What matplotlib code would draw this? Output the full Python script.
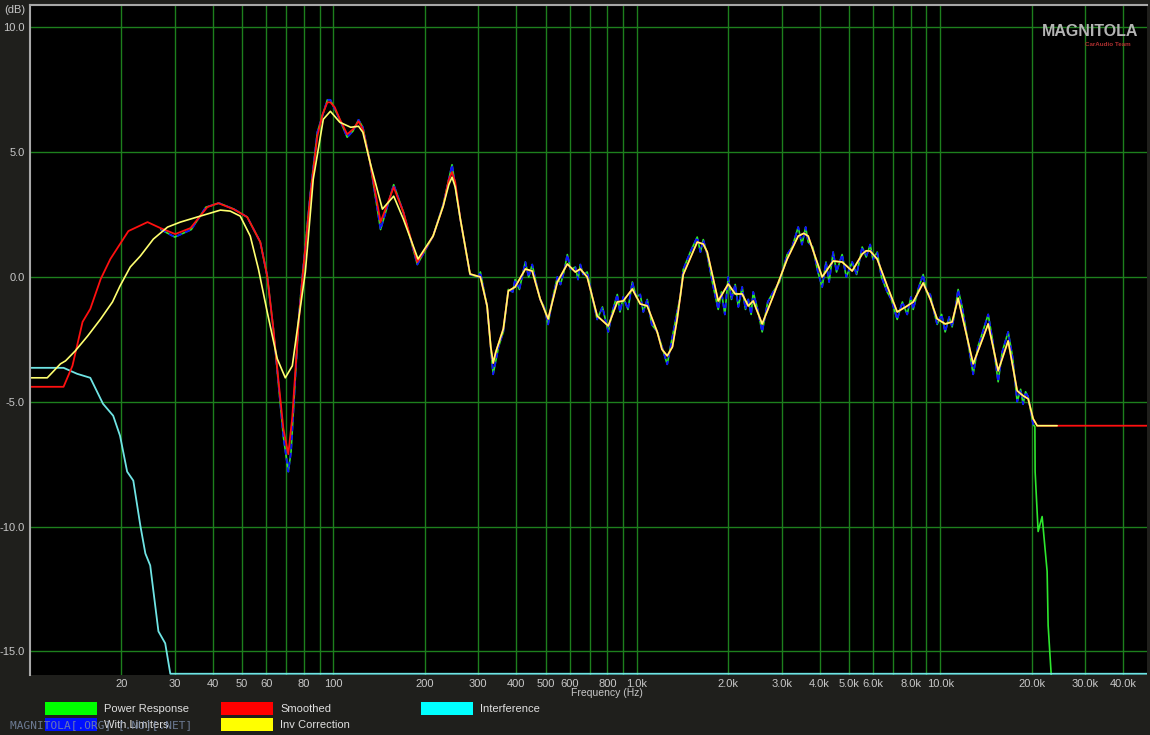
import numpy as np
import matplotlib.pyplot as plt
from matplotlib.patches import Rectangle
from matplotlib.ticker import NullLocator

# ---- data (Hz, dB) ----
smooth_freq = [10, 12.9, 13.8, 14.9, 15.8, 17.1, 18.4, 21.1, 24.4, 26.9, 30.1, 33.8, 38.4, 41.7,
               46.8, 52.0, 57.4, 60.5, 63.4, 65.8, 68.4, 71.0, 73.2, 76.6, 79.0, 83.9, 88.5, 92.0,
               95.5, 97.7, 101, 105, 111, 116, 121, 125, 132, 143, 158, 170, 189, 213, 230, 240, 246,
               252, 262, 282, 305, 321, 330, 336, 343, 363, 377, 397, 429, 452, 480, 510, 547, 590,
               627, 651, 686, 740, 805, 862, 902, 966, 1026, 1082, 1167, 1210, 1259, 1310, 1358,
               1422, 1581, 1655, 1706, 1854, 2000, 2109, 2224, 2328, 2418, 2588, 2815, 3129, 3402,
               3550, 3669, 4081, 4436, 4748, 5125, 5529, 5700, 5875, 6195, 6684, 7211, 7779, 8141,
               8784, 9264, 9765, 10376, 10941, 11450, 12834, 14383, 15513, 16737, 17924, 18751,
               19477, 20228, 20852, 48000]
smooth_db = [-4.4, -4.4, -3.56, -1.8, -1.28, -0.08, 0.72, 1.84, 2.2, 1.96, 1.72, 1.96, 2.8, 2.96,
             2.72, 2.4, 1.4, 0.04, -2.08, -4.08, -6.08, -7.1, -5.6, -2.0, -0.08, 3.24, 5.64, 6.5,
             7.0, 7.0, 6.8, 6.32, 5.72, 5.92, 6.24, 5.92, 4.6, 2.2, 3.6, 2.6, 0.6, 1.64, 2.84, 3.9, 4.2,
             3.8, 2.32, 0.12, 0.0, -1.16, -2.8, -3.45, -3.0, -2.08, -0.56, -0.4, 0.32, 0.24, -0.88,
             -1.68, -0.2, 0.52,
             0.2, 0.32, 0.0, -1.56, -1.96, -1.0, -0.96, -0.48, -1.08, -1.16, -2.2, -2.9, -3.16, -2.8, -1.68,
             0.1, 1.4, 1.32, 1.0, -0.96, -0.28, -0.68, -0.68, -1.16, -0.96, -1.88, -0.76, 0.72, 1.64,
             1.75, 1.64, 0.0, 0.64, 0.6, 0.24, 0.92, 1.05, 1.04, 0.72, -0.36, -1.4, -1.16, -1.0,
             -0.24, -0.88, -1.68, -1.88, -1.8, -0.85, -3.48, -1.88, -3.76, -2.56, -4.56, -4.76,
             -4.88, -5.68, -5.96, -5.96]

inv_freq = [10, 11.4, 12.6, 13.1, 14.1, 15.5, 17.1, 18.7, 19.8, 21.4, 23.1, 25.5, 28.4, 31.3,
            36.4, 42.4, 45.7, 49.3, 53.2, 56.6, 60.5, 65.3, 69.4, 73.2, 76.6, 80.8, 85.8, 92.6,
            97.7, 105, 114, 121, 125, 132, 145, 158, 170, 190, 213, 230, 240, 246, 252, 262]
inv_db = [-4.04, -4.04, -3.48, -3.36, -2.96, -2.36, -1.68, -1.0, -0.36, 0.4, 0.84, 1.52, 2.0, 2.2,
          2.44, 2.68, 2.64, 2.44, 1.64, 0.32, -1.4, -3.28, -4.04, -3.56, -1.8, 0.2, 3.92, 6.32,
          6.64, 6.2, 6.0, 6.04, 5.8, 4.6, 2.72, 3.24, 2.32, 0.72, 1.64, 2.84, 3.7, 4.0, 3.6, 2.32]
inv_end_freq = 24268

raw_freq = [27, 30, 34, 38, 42, 47, 52, 57.4, 60.5, 63.4, 65.8, 68.4, 71.0, 72.5, 74.5, 77, 79,
            84, 88.5, 95.5, 97.7, 105, 111, 116, 121, 125, 132, 143, 158, 170, 189, 213, 230,
            246, 262, 282, 300, 305, 321, 336, 350, 363, 377, 390, 397, 410, 429, 440, 452, 465,
            480, 495, 510, 525, 547, 560, 575, 590, 605, 627, 640, 651, 665, 686, 710, 740, 770,
            805, 830, 862, 880, 902, 935, 966, 995, 1026, 1050, 1082, 1120, 1167, 1210, 1259,
            1300, 1358, 1390, 1422, 1500, 1581, 1620, 1655, 1706, 1780, 1854, 1900, 1950, 2000,
            2050, 2109, 2160, 2224, 2280, 2328, 2380, 2418, 2500, 2588, 2700, 2815, 2950, 3129,
            3250, 3402, 3500, 3600, 3669, 3800, 3950, 4081, 4200, 4300, 4436, 4550, 4748, 4900,
            5125, 5300, 5529, 5700, 5875, 6000, 6195, 6400, 6684, 6900, 7211, 7500, 7779, 8000,
            8141, 8500, 8784, 9000, 9264, 9500, 9765, 10100, 10376, 10700, 10941, 11200, 11450,
            11800, 12300, 12834, 13300, 13800, 14383, 14900, 15513, 16000, 16737, 17300, 17924,
            18400, 18751, 19100, 19477, 20228, 20500]
raw_db = [1.9, 1.6, 1.9, 2.8, 2.96, 2.72, 2.4, 1.4, 0.04, -2.1, -4.2, -6.4, -7.8, -7.0, -4.5, -1.5, 0.0,
          3.4, 5.8, 7.1, 7.1, 6.3, 5.6, 5.85, 6.3, 6.0, 4.6, 1.9, 3.7, 2.6, 0.5, 1.64, 2.9,
          4.5, 2.3, 0.1, 0.0, 0.2, -1.2, -3.9, -2.8, -2.2, -0.5, -0.6, -0.1, -0.5, 0.6, 0.0, 0.5, -0.2,
          -0.9, -1.2, -1.9, -1.0, 0.0, -0.3, 0.2, 0.9, 0.3, 0.4, -0.1, 0.5, 0.1, 0.2, -0.7, -1.7, -1.2,
          -2.2, -1.4, -0.7, -1.4, -0.8, -1.3, -0.2, -0.8, -0.7, -1.4, -0.9, -1.9, -2.2, -2.8, -3.5,
          -2.6, -1.4, -0.8, 0.3, 1.0, 1.6, 1.0, 1.5, 0.9, -0.3, -1.3, -0.6, -1.5, 0.0,
          -0.9, -0.3, -1.2, -0.4, -1.3, -0.9, -1.5, -0.6, -1.3, -2.2, -1.0, -0.6, -0.2, 0.9,
          1.2, 2.0, 1.3, 2.0, 1.4, 1.2, 0.2, -0.4, 0.6, -0.2, 1.0, 0.2, 0.9, 0.0,
          0.6, 0.1, 1.2, 0.8, 1.3, 0.7, 1.0, 0.0, -0.6, -0.9, -1.7, -1.0, -1.5, -0.8,
          -1.3, -0.4, 0.1, -0.6, -0.7, -1.3, -1.9, -1.5, -2.2, -1.6, -2.0, -1.3, -0.5,
          -1.2, -2.5, -3.9, -2.8, -2.2, -1.5, -2.6, -4.2, -3.0, -2.2, -3.2, -5.0,
          -4.5, -5.1, -4.6, -4.8, -5.9, -6.0]

power_tail_freq = [20536, 21010, 21658, 22496, 22668, 23192, 23500]
power_tail_db = [-7.8, -10.2, -9.6, -11.8, -13.96, -15.9, -17.5]

interf_freq = [10, 12.9, 14.3, 15.8, 17.4, 18.8, 19.8, 20.9, 21.9, 23.1, 24.0, 24.9, 26.5, 27.9,
               29.0, 48000]
interf_db = [-3.64, -3.64, -3.88, -4.04, -5.08, -5.56, -6.36, -7.8, -8.16, -9.96, -11.08, -11.56,
             -14.2, -14.68, -15.9, -15.9]

grid_freqs = [20, 30, 40, 50, 60, 70, 80, 90, 100, 200, 300, 400, 500, 600, 700, 800, 900,
              1000, 2000, 3000, 4000, 5000, 6000, 7000, 8000, 9000, 10000, 20000, 30000, 40000]
grid_labels = ['20', '30', '40', '50', '60', '', '80', '', '100', '200', '300', '400', '500',
               '600', '', '800', '', '1.0k', '2.0k', '3.0k', '4.0k', '5.0k', '6.0k', '', '8.0k',
               '', '10.0k', '20.0k', '30.0k', '40.0k']
db_ticks = [10, 5, 0, -5, -10, -15]

W, H = 1150, 735
BG = '#1f1f1c'
TXT = '#c8c8c8'
plt.rcParams['font.family'] = ['Liberation Sans', 'DejaVu Sans']

fig = plt.figure(figsize=(W / 100, H / 100), dpi=100, facecolor=BG)
ax = fig.add_axes([30 / W, 1 - 675 / H, 1117 / W, 670 / H], facecolor='black')
ax.set_xscale('log')
ax.set_xlim(10, 48000)
ax.set_ylim(-15.95, 10.9)

ax.set_xticks(grid_freqs)
ax.set_xticklabels(grid_labels)
ax.xaxis.set_minor_locator(NullLocator())
ax.set_yticks(db_ticks)
ax.set_yticklabels([f'{v:.1f}' for v in db_ticks])
ax.tick_params(length=0, colors=TXT, labelsize=8)
ax.tick_params(axis='x', pad=3)
ax.tick_params(axis='y', pad=4)
ax.grid(True, color='#1d7f1d', lw=1.0)
ax.set_axisbelow(True)
for s in ['right', 'bottom']:
    ax.spines[s].set_visible(False)
for s in ['left', 'top']:
    ax.spines[s].set_color('#a8a8a8')
    ax.spines[s].set_linewidth(1.5)

power_freq = raw_freq + power_tail_freq
power_db = raw_db + power_tail_db
inv_all_freq = inv_freq + [f for f in smooth_freq if 270 < f < inv_end_freq] + [inv_end_freq]
inv_all_db = inv_db + [d for f, d in zip(smooth_freq, smooth_db) if 270 < f < inv_end_freq] + [-5.96]

line_kw = dict(solid_joinstyle='round', solid_capstyle='round')
ax.plot(power_freq, power_db, color='#2ee62e', lw=1.2, **line_kw)
ax.plot(raw_freq, raw_db, color='#1010ff', lw=1.3, dashes=(3, 2))
ax.plot(interf_freq, interf_db, color='#6fe4e4', lw=1.3, **line_kw)
ax.plot(smooth_freq, smooth_db, color='#ff1010', lw=1.3, **line_kw)
ax.plot(inv_all_freq, inv_all_db, color='#ffff70', lw=1.2, **line_kw)

fig.text(4 / W, 1 - 10 / H, '(dB)', color=TXT, fontsize=8, va='center')
fig.text(607 / W, 1 - 693 / H, 'Frequency (Hz)', color=TXT, fontsize=7.5, ha='center', va='center')

# logo
fig.text(1090 / W, 1 - 31 / H, 'MAGNITOLA', color='#b4b4b4', fontsize=11.5, fontweight='bold',
         ha='center', va='center')
fig.text(1108 / W, 1 - 45 / H, 'CarAudio Team', color='#b03030', fontsize=4.5,
         fontweight='bold', ha='center', va='center')

# legend
legend_items = [(45, 702, '#00ff00', 'Power Response'), (45, 718, '#0010ff', 'With Limiters'),
                (221, 702, '#ff0000', 'Smoothed'), (221, 718, '#ffff00', 'Inv Correction'),
                (421, 702, '#00ffff', 'Interference')]
for x0, y0, col, label in legend_items:
    fig.patches.append(Rectangle((x0 / W, 1 - (y0 + 13) / H), 52 / W, 13 / H,
                                 transform=fig.transFigure, facecolor=col, edgecolor='none'))
    fig.text((x0 + 59) / W, 1 - (y0 + 7) / H, label, color='#e0e0e0', fontsize=8, va='center')

fig.text(10 / W, 1 - 725 / H, 'MAGNITOLA[.ORG] [.NU][.NET]', color='#7a8aa8', fontsize=8,
         va='center', family='DejaVu Sans Mono', alpha=0.85)

fig.savefig('out.png', dpi=100, facecolor=BG)
